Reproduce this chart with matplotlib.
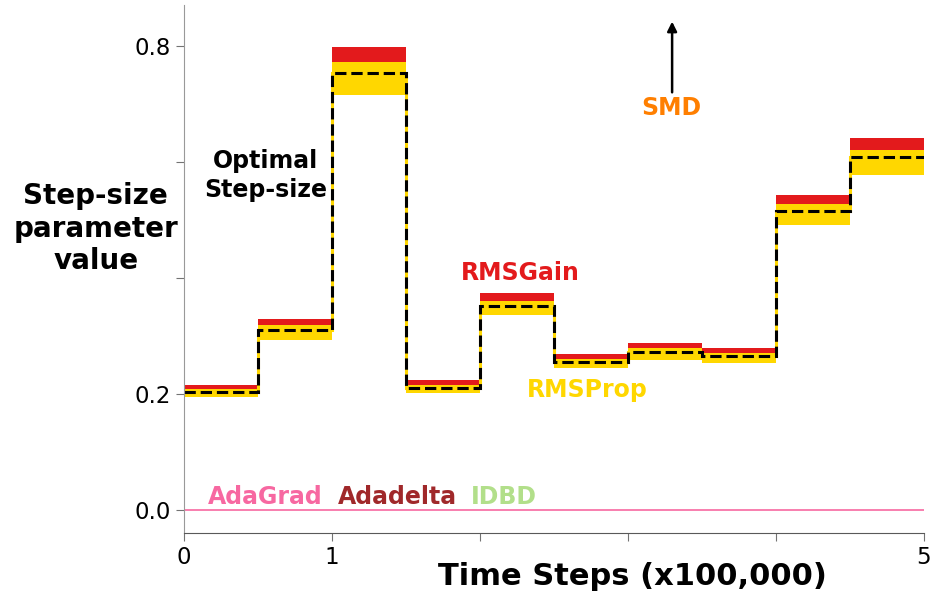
import numpy as np
import matplotlib.pyplot as plt

# step boundaries, in units of 100,000 time steps
edges = [0, 0.5, 1.0, 1.5, 2.0, 2.5, 3.0, 3.5, 4.0, 4.5, 5.0]

# optimal step-size per segment (dashed black)
optimal = [0.2035, 0.311, 0.754, 0.211, 0.352, 0.2546, 0.273, 0.2655, 0.516, 0.608]

# RMSGain band (red): top edge per segment
rmsgain_top = [0.2155, 0.330, 0.798, 0.224, 0.3736, 0.268, 0.2874, 0.2787, 0.543, 0.641]

# RMSProp band (yellow): top and bottom edges per segment
rmsprop_top = [0.209, 0.318, 0.773, 0.216, 0.360, 0.260, 0.279, 0.271, 0.527, 0.621]
rmsprop_bot = [0.195, 0.293, 0.7155, 0.2017, 0.336, 0.2443, 0.2586, 0.2529, 0.491, 0.5776]

# methods that collapse to zero
zero_line = [0.0] * len(optimal)

yticks = [0.0, 0.2, 0.4, 0.6, 0.8]
ytick_labels = ['0.0', '0.2', '', '', '0.8']
xticks = [0, 1, 2, 3, 4, 5]
xtick_labels = ['0', '1', '', '', '', '5']

RED = '#e31a1c'
GOLD = '#ffd700'
ORANGE = '#ff7f00'
PINK = '#f768a1'
BROWN = '#a0282a'
LGREEN = '#b2df8a'

fig = plt.figure(figsize=(9.33, 5.95), dpi=100)
ax = fig.add_axes([0.197, 0.104, 0.793, 0.888])

# red band, then yellow over it, then the optimal dashed line
ax.stairs(rmsgain_top, edges, baseline=optimal, fill=True, color=RED, lw=0)
ax.stairs(rmsprop_top, edges, baseline=rmsprop_bot, fill=True, color=GOLD, lw=0)
ax.stairs(optimal, edges, baseline=None, color=GOLD, lw=2.2)
ax.stairs(optimal, edges, baseline=None, color='black', lw=2.2, ls='--')
ax.stairs(zero_line, edges, baseline=None, color=PINK, lw=1.2)

# labels on the chart
bold = dict(fontsize=17, fontweight='bold', ha='center', va='center')
ax.text(0.554, 0.576, 'Optimal\nStep-size', color='black', linespacing=1.25, **bold)
ax.text(2.277, 0.409, 'RMSGain', color=RED, **bold)
ax.text(2.726, 0.206, 'RMSProp', color=GOLD, **bold)
ax.text(3.297, 0.693, 'SMD', color=ORANGE, **bold)
ax.text(0.551, 0.022, 'AdaGrad', color=PINK, **bold)
ax.text(1.446, 0.022, 'Adadelta', color=BROWN, **bold)
ax.text(2.162, 0.022, 'IDBD', color=LGREEN, **bold)
ax.annotate('', xy=(3.30, 0.842), xytext=(3.30, 0.72),
            arrowprops=dict(arrowstyle='-|>', color='black', lw=1.8,
                            mutation_scale=14, shrinkA=0, shrinkB=0))

ax.set_xlim(0, 5)
ax.set_ylim(-0.04, 0.871)
ax.set_yticks(yticks)
ax.set_yticklabels(ytick_labels)
ax.set_xticks(xticks)
ax.set_xticklabels(xtick_labels)
ax.tick_params(labelsize=16.5, length=6, color='0.45')

ax.spines['top'].set_visible(False)
ax.spines['right'].set_visible(False)
ax.spines['left'].set_color('0.6')
ax.spines['bottom'].set_color('0.35')

ax.set_ylabel('Step-size\nparameter\nvalue', fontsize=20, fontweight='bold',
              rotation=0, ha='center', va='center', linespacing=1.2)
ax.yaxis.set_label_coords(-0.119, 0.576)
ax.set_xlabel('Time Steps (x100,000)', fontsize=22, fontweight='bold',
              ha='center', va='center')
ax.xaxis.set_label_coords(0.606, -0.083)

fig.savefig('out.png', dpi=100)
